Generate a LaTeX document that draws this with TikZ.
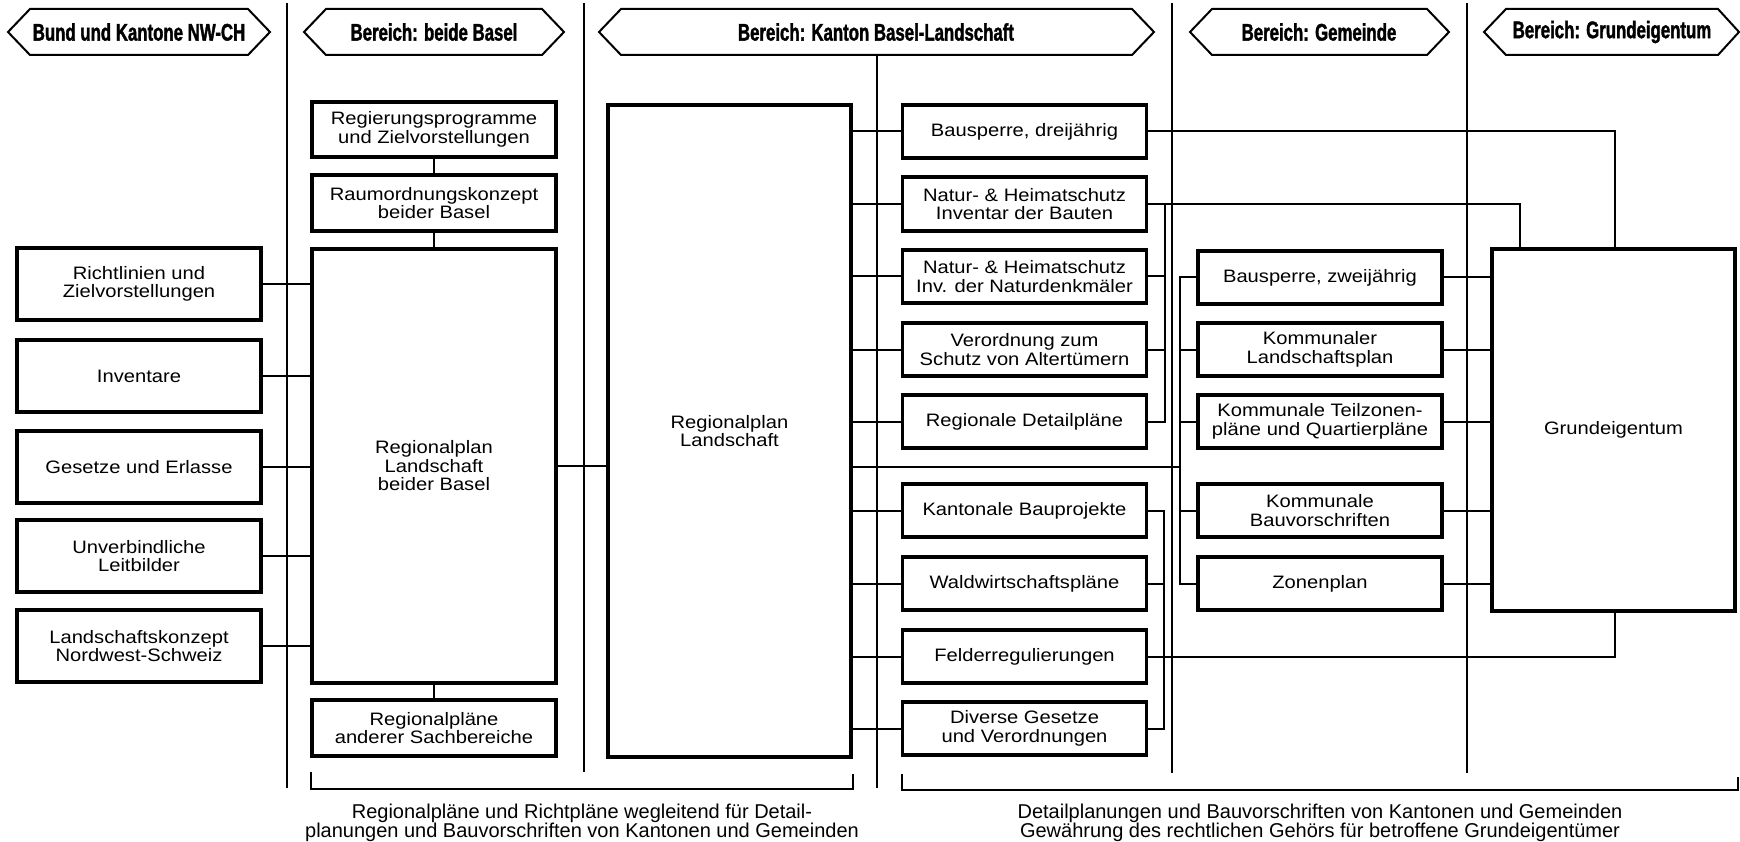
\documentclass[tikz,border=0pt]{standalone}
\usepackage{fontspec}
\setmainfont{Liberation Sans}
\newfontfamily\boxfont{Liberation Sans}[FakeStretch=1.12]
\newfontfamily\headfont{Liberation Sans}[FakeStretch=0.70,FakeBold=1.5]
\lineskiplimit=-100pt
\begin{document}
\begin{tikzpicture}[x=1pt,y=-1pt,
  bx/.style={draw, line width=3.8pt, inner sep=0pt, outer sep=0pt, align=center, fill=white,
    font=\boxfont\fontsize{18}{18.5}\selectfont, minimum width=244pt, minimum height=53.5pt},
  cola/.style={bx, minimum height=72.5pt},
  con/.style={line width=2pt},
  divl/.style={line width=1.2pt},
  banner/.style={line width=2pt, line join=miter},
  headtxt/.style={font=\headfont\bfseries\fontsize{24}{24}\selectfont, inner sep=0pt},
  capt/.style={align=center, inner sep=0pt, font=\fontsize{20}{18.5}\selectfont},
  brk/.style={line width=2.5pt}]
\useasboundingbox (0,0) rectangle (1740,842);
\fill[white] (0,0) rectangle (1740,842);

% column dividers
\draw[divl] (287,3) -- (287,788);
\draw[divl] (584,3) -- (584,772);
\draw[divl] (877,55) -- (877,788);
\draw[divl] (1172,3) -- (1172,773);
\draw[divl] (1467,3) -- (1467,773);

% header banners
\draw[banner] (8,32) -- (30,9) -- (248,9) -- (270,32) -- (248,55) -- (30,55) -- cycle;
\draw[banner] (304,32) -- (326,9) -- (542,9) -- (564,32) -- (542,55) -- (326,55) -- cycle;
\draw[banner] (599,32) -- (621,9) -- (1132,9) -- (1154,32) -- (1132,55) -- (621,55) -- cycle;
\draw[banner] (1190,32) -- (1212,9) -- (1427,9) -- (1449,32) -- (1427,55) -- (1212,55) -- cycle;
\draw[banner] (1484,32) -- (1506,9) -- (1718,9) -- (1739,32) -- (1718,55) -- (1506,55) -- cycle;
\node[headtxt] (h1) at (139,32) {Bund und Kantone NW-CH};
\node[headtxt] (h2) at (434,32) {Bereich: beide Basel};
\node[headtxt] (h3) at (876,32) {Bereich: Kanton Basel-Landschaft};
\node[headtxt] (h4) at (1319,32) {Bereich: Gemeinde};
\node[headtxt] (h5) at (1612,32) {Bereich: Grundeigentum};

% column 1
\node[cola] (r1) at (139,284) {Richtlinien und\\Zielvorstellungen};
\node[cola] (r2) at (139,376) {Inventare};
\node[cola] (r3) at (139,467) {Gesetze und Erlasse};
\node[cola] (r4) at (139,556) {Unverbindliche\\Leitbilder};
\node[cola] (r5) at (139,646) {Landschaftskonzept\\Nordwest-Schweiz};

% column 2
\node[bx, minimum height=55.5pt] (reg) at (434,129.5) {Regierungsprogramme\\und Zielvorstellungen};
\node[bx, minimum height=56.5pt] (raum) at (434,203) {Raumordnungskonzept\\beider Basel};
\node[bx, minimum height=434.5pt] (bigB) at (434,466) {Regionalplan\\Landschaft\\beider Basel};
\node[bx, minimum height=56.5pt] (andere) at (434,728) {Regionalpläne\\anderer Sachbereiche};

% column 3
\node[bx, minimum width=243.5pt, minimum height=652.5pt] (RL) at (729.5,431) {Regionalplan\\Landschaft};
\node[bx] (k1) at (1024.5,131.5) {Bausperre, dreijährig};
\node[bx] (k2) at (1024.5,204) {Natur- \& Heimatschutz\\Inventar der Bauten};
\node[bx] (k3) at (1024.5,276.5) {Natur- \& Heimatschutz\\Inv. der Naturdenkmäler};
\node[bx] (k4) at (1024.5,349.5) {Verordnung zum\\Schutz von Altertümern};
\node[bx] (k5) at (1024.5,421.5) {Regionale Detailpläne};
\node[bx] (k6) at (1024.5,510.5) {Kantonale Bauprojekte};
\node[bx] (k7) at (1024.5,583.5) {Waldwirtschaftspläne};
\node[bx] (k8) at (1024.5,656.5) {Felderregulierungen};
\node[bx] (k9) at (1024.5,728.5) {Diverse Gesetze\\und Verordnungen};

% column 4
\node[bx] (g1) at (1320,277.5) {Bausperre, zweijährig};
\node[bx] (g2) at (1320,349.5) {Kommunaler\\Landschaftsplan};
\node[bx] (g3) at (1320,421.5) {Kommunale Teilzonen-\\pläne und Quartierpläne};
\node[bx] (g4) at (1320,510.5) {Kommunale\\Bauvorschriften};
\node[bx] (g5) at (1320,583.5) {Zonenplan};

% column 5
\node[bx, minimum width=243.5pt, minimum height=362.5pt] (GE) at (1613.5,430) {Grundeigentum};

% helper coordinates
\coordinate (gbk) at (1180,467);
\coordinate (bA) at (1165,0);
\coordinate (bB) at (1164,0);
\coordinate (natx) at (1520,0);
\coordinate (bsx) at (1615,0);

% connectors column 1 -> column 2
\foreach \n in {r1,r2,r3,r4,r5} \draw[con] (\n.east) -- (\n.east -| bigB.west);
\draw[con] (reg.south) -- (raum.north);
\draw[con] (raum.south) -- (bigB.north);
\draw[con] (bigB.south) -- (andere.north);
\draw[con] (bigB.east) -- (bigB.east -| RL.west);

% RL -> column 3 boxes
\foreach \n in {k1,k2,k3,k4,k5,k6,k7,k8,k9} \draw[con] (\n.west -| RL.east) -- (\n.west);
% RL -> Gemeinde bracket
\draw[con] (RL.east |- gbk) -- (gbk);
\draw[con] (g1.west) -- (g1.west -| gbk) -- (g5.west -| gbk) -- (g5.west);
\foreach \n in {g2,g3,g4} \draw[con] (\n.west -| gbk) -- (\n.west);
% Gemeinde -> Grundeigentum
\foreach \n in {g1,g2,g3,g4,g5} \draw[con] (\n.east) -- (\n.east -| GE.west);

% column 3 right side
\draw[con] (k1.east) -- (k1.east -| bsx) -- (bsx |- GE.north);
\draw[con] (k2.east) -- (k2.east -| natx) -- (natx |- GE.north);
\draw[con] (k2.east -| bA) -- (k5.east -| bA) -- (k5.east);
\foreach \n in {k3,k4} \draw[con] (\n.east) -- (\n.east -| bA);
\draw[con] (k6.east) -- (k6.east -| bB) -- (k9.east -| bB) -- (k9.east);
\draw[con] (k7.east) -- (k7.east -| bB);
\draw[con] (k8.east) -- (k8.east -| bsx) -- (bsx |- GE.south);

% bottom brackets
\draw[brk] (311,772) -- (311,789) -- (853,789) -- (853,774);
\draw[brk] (902,774) -- (902,790) -- (1738,790) -- (1738,777);

% captions
\node[capt] (cap1) at (582,823) {Regionalpläne und Richtpläne wegleitend für Detail-\\planungen und Bauvorschriften von Kantonen und Gemeinden};
\node[capt] (cap2) at (1320,823) {Detailplanungen und Bauvorschriften von Kantonen und Gemeinden\\Gewährung des rechtlichen Gehörs für betroffene Grundeigentümer};
\end{tikzpicture}
\end{document}
